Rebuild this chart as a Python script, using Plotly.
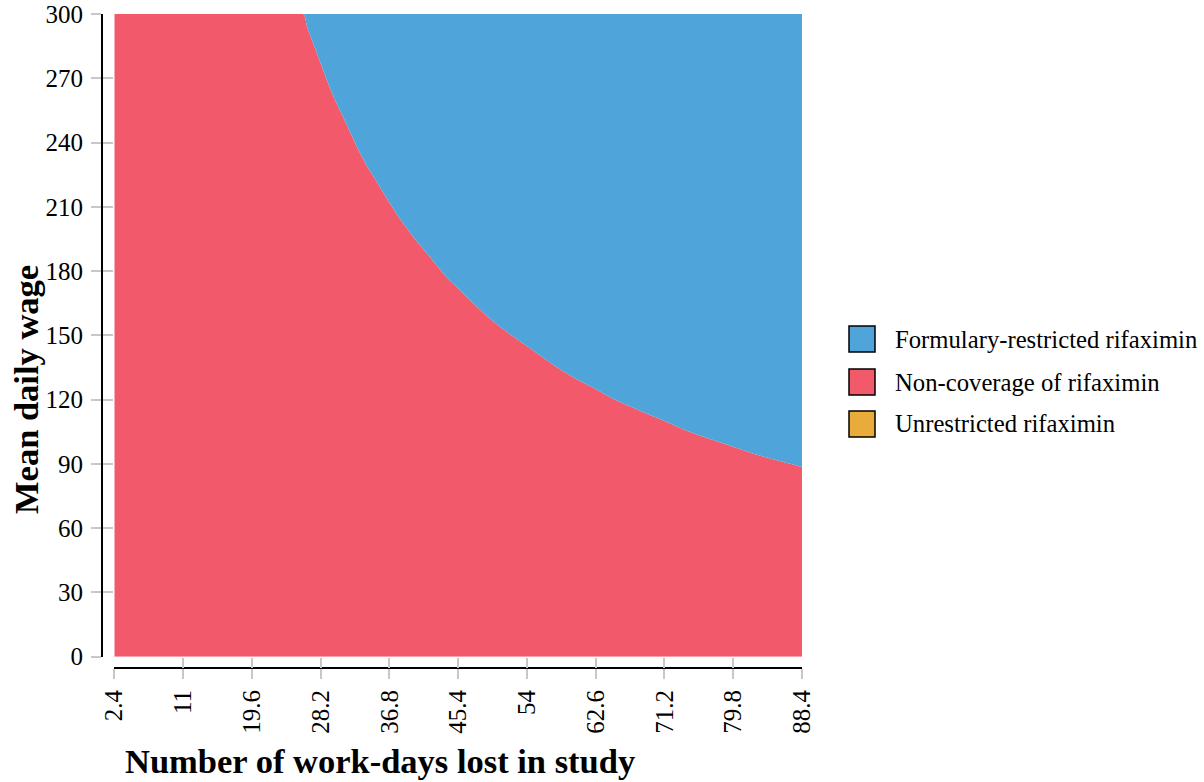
import plotly.graph_objects as go

# ---- data ----
days_lost = [2.4, 11, 19.6, 26.0, 26.5, 27.0, 28.2, 29, 30, 31, 32, 33, 34, 35, 36.8, 38, 40,
             42, 44, 45.4, 47, 49, 51, 54, 57, 60, 62.6, 65, 68, 71.2, 74, 77, 79.8, 83, 86, 88.4]
threshold_wage = [300, 300, 300, 300, 294, 289, 277, 269, 260, 252, 244, 236, 229, 223, 212, 205, 195,
                  186, 177, 172, 166, 159, 153, 145, 137, 130, 125, 120, 115, 110, 105.5, 101.5, 98,
                  94, 91, 88.5]
wage_max = 300
x_ticks = [2.4, 11, 19.6, 28.2, 36.8, 45.4, 54, 62.6, 71.2, 79.8, 88.4]
x_tick_text = ["2.4", "11", "19.6", "28.2", "36.8", "45.4", "54", "62.6", "71.2", "79.8", "88.4"]
y_ticks = [0, 30, 60, 90, 120, 150, 180, 210, 240, 270, 300]
legend_labels = ["Formulary-restricted rifaximin", "Non-coverage of rifaximin", "Unrestricted rifaximin"]
legend_colors = ["#4FA4DA", "#F2596B", "#E9AC3A"]

BLUE, RED = legend_colors[0], legend_colors[1]
SERIF = "Liberation Serif"

W, H = 1204, 782
PL, PR, PT, PB = 102, 802, 14, 668   # plot area in pixels
def px(xp):
    return (xp - PL) / (PR - PL)
def py(yp):
    return (PB - yp) / (PB - PT)

fig = go.Figure()
fig.add_trace(go.Scatter(x=days_lost, y=threshold_wage, mode="lines", fill="tozeroy",
                         fillcolor=RED, line=dict(width=0, color=RED, shape="spline", smoothing=0.8),
                         name=legend_labels[1], showlegend=False, hoverinfo="x+y"))
fig.add_trace(go.Scatter(x=days_lost, y=[wage_max] * len(days_lost), mode="lines", fill="tonexty",
                         fillcolor=BLUE, line=dict(width=0, color=BLUE),
                         name=legend_labels[0], showlegend=False, hoverinfo="x+y"))
# helper trace for the overlay axes (inner half of tick marks)
fig.add_trace(go.Scatter(x=[None], y=[None], xaxis="x2", yaxis="y2", showlegend=False,
                         hoverinfo="skip"))

tick_common = dict(ticklen=10, tickwidth=2, tickcolor="#c8c8c8", showgrid=False,
                   zeroline=False, automargin=False)
xdom = [px(114.3), 1]
ydom = [py(656.7), 1]

fig.update_layout(
    width=W, height=H,
    margin=dict(l=PL, r=W - PR, t=PT, b=H - PB, pad=0, autoexpand=False),
    paper_bgcolor="white", plot_bgcolor="white",
    showlegend=False,
    xaxis=dict(domain=xdom, range=[2.4, 88.4], anchor="free", position=0,
               showline=True, linecolor="black", linewidth=2, ticks="outside",
               tickvals=x_ticks, ticktext=x_tick_text, tickangle=-90,
               tickfont=dict(family=SERIF, size=25, color="black"),
               ticklabelstandoff=1, ticklabeloverflow="allow", **tick_common),
    yaxis=dict(domain=ydom, range=[0, 300], anchor="free", position=0,
               showline=True, linecolor="black", linewidth=2, ticks="outside",
               tickvals=y_ticks, tickfont=dict(family=SERIF, size=25, color="black"),
               ticklabelstandoff=3, ticklabeloverflow="allow", **tick_common),
    xaxis2=dict(overlaying="x", range=[2.4, 88.4], anchor="free", position=0, side="bottom",
                ticks="inside", tickvals=x_ticks, showticklabels=False, showline=False,
                **tick_common),
    yaxis2=dict(overlaying="y", range=[0, 300], anchor="free", position=0, side="left",
                ticks="inside", tickvals=y_ticks, showticklabels=False, showline=False,
                **tick_common),
)

# axis titles
fig.add_annotation(text="<b>Number of work-days lost in study</b>", xref="paper", yref="paper",
                   x=px(380), y=py(761), xanchor="center", yanchor="middle", showarrow=False,
                   font=dict(family=SERIF, size=34.5, color="black"))
fig.add_annotation(text="<b>Mean daily wage</b>", xref="paper", yref="paper",
                   x=px(26), y=py(390), xanchor="center", yanchor="middle", showarrow=False,
                   textangle=-90, font=dict(family=SERIF, size=34.5, color="black"))

# legend
centers = [339, 382, 424]
for lab, col, cy in zip(legend_labels, legend_colors, centers):
    fig.add_shape(type="rect", xref="paper", yref="paper",
                  x0=px(849), x1=px(875), y0=py(cy + 13), y1=py(cy - 13),
                  fillcolor=col, line=dict(color="black", width=1.5))
    fig.add_annotation(text=lab, xref="paper", yref="paper", x=px(893), y=py(cy),
                       xanchor="left", yanchor="middle", showarrow=False,
                       font=dict(family=SERIF, size=24.7, color="black"))

fig.write_html("out.html", config={"displayModeBar": False},
               post_script="document.body.style.margin='0px';")
